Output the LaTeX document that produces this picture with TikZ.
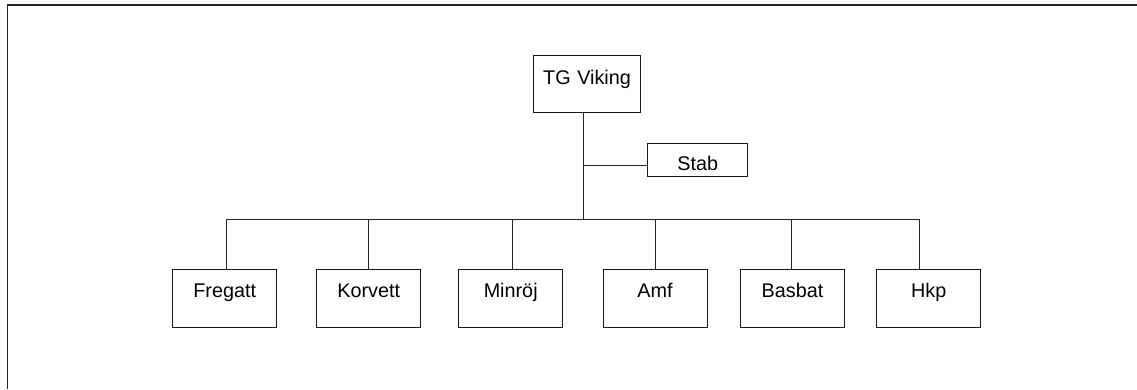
\documentclass[tikz,border=0pt]{standalone}
\usepackage{fontspec}
\setmainfont{Liberation Sans}
\begin{document}
\begin{tikzpicture}[x=1pt,y=-1pt,
  box/.style={draw=black!90, line width=0.9pt, inner sep=0pt, align=center,
    font=\fontsize{19.8}{24}\selectfont},
  unit/.style={box, text width=104pt, text height=27.4pt, text depth=30pt},
  conn/.style={draw=black!85, line width=0.9pt},
  frame/.style={draw=black!85, line width=1.4pt}]
\useasboundingbox (0,0) rectangle (1137,389);
\draw[frame] (7.5,389) -- (7.5,5) -- (1137,5);
\node[box, text width=107pt, text height=29.6pt, text depth=27.4pt, anchor=north] (tg) at (587,54.7) {TG Viking};
\node[box, text width=100pt, text height=27.3pt, text depth=6pt, anchor=north] (stab) at (697.7,142.7) {Stab};
\node[unit, anchor=north] (fre) at (224.7,269.3) {Fregatt};
\node[unit, anchor=north] (kor) at (368.7,269.3) {Korvett};
\node[unit, anchor=north] (min) at (510.7,269.3) {Minröj};
\node[unit, anchor=north] (amf) at (655,269.3) {Amf};
\node[unit, anchor=north] (bas) at (792.5,269.3) {Basbat};
\node[unit, anchor=north] (hkp) at (928.7,269.3) {Hkp};
\coordinate (bus) at (583,219.3);
\coordinate (sj) at (583,165.3);
\draw[conn] ([xshift=-4pt]tg.south) -- (bus);
\draw[conn] (sj) -- (sj -| stab.west);
\draw[conn] ([xshift=1.3pt]fre.north) |- ([xshift=-9pt]hkp.north |- bus) -- ([xshift=-9pt]hkp.north);
\draw[conn] (kor.north) -- (kor.north |- bus);
\draw[conn] ([xshift=1.3pt]min.north) -- ([xshift=1.3pt]min.north |- bus);
\draw[conn] (amf.north) -- (amf.north |- bus);
\draw[conn] ([xshift=-1.5pt]bas.north) -- ([xshift=-1.5pt]bas.north |- bus);
\end{tikzpicture}
\end{document}
